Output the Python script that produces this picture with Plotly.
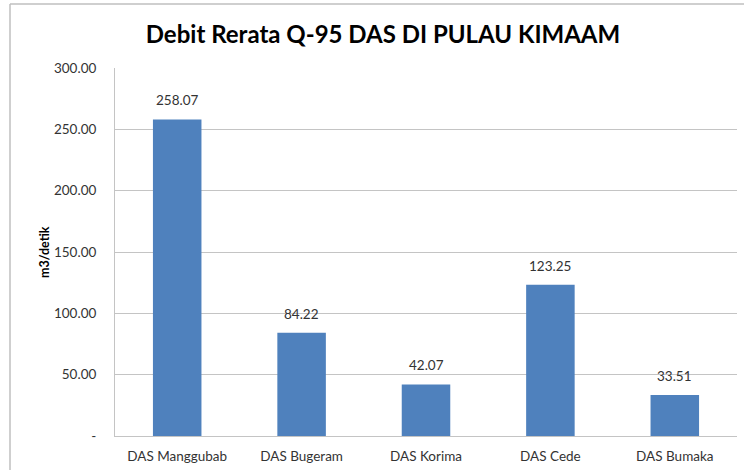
import plotly.graph_objects as go

categories = ["DAS Manggubab", "DAS Bugeram", "DAS Korima", "DAS Cede", "DAS Bumaka"]
values = [258.07, 84.22, 42.07, 123.25, 33.51]
tick_vals = [0, 50, 100, 150, 200, 250, 300]
tick_text = ["-", "50.00", "100.00", "150.00", "200.00", "250.00", "300.00"]
title_text = "Debit Rerata Q-95 DAS DI PULAU KIMAAM"
y_title = "m3/detik"

W, H = 744, 470
L, R, T, B = 115, 7, 68, 34
pw, ph = W - L - R, H - T - B

FONT = "Lato"
TXT = "#333333"
GRID = "#C4C4C4"
FS = 13.5

fig = go.Figure()
fig.add_trace(go.Bar(x=categories, y=values, marker=dict(color="#4F81BD", line=dict(width=0)),
                     hoverinfo="x+y"))

for c, v in zip(categories, values):
    fig.add_annotation(x=c, y=v, text=f"{v:.2f}", showarrow=False, yanchor="bottom", yshift=9,
                       font=dict(family=FONT, size=FS, color=TXT))

fig.add_annotation(x=(44 - L) / pw, y=0.5, xref="paper", yref="paper", text=f"<b>{y_title}</b>",
                   xanchor="center", yanchor="middle",
                   textangle=-90, showarrow=False, font=dict(family=FONT, size=12.5, color="#000"))

# outer chart border (left and top visible)
fig.add_shape(type="line", xref="paper", yref="paper", x0=(10 - L) / pw, x1=(10 - L) / pw,
              y0=(T + ph - H) / ph, y1=1 + (T - 4) / ph, line=dict(color="#BFBFBF", width=1.5))
fig.add_shape(type="line", xref="paper", yref="paper", x0=(10 - L) / pw, x1=(W - L) / pw,
              y0=1 + (T - 4) / ph, y1=1 + (T - 4) / ph, line=dict(color="#BFBFBF", width=1.5))

fig.update_layout(
    width=W, height=H, margin=dict(l=L, r=R, t=T, b=B, autoexpand=False),
    paper_bgcolor="white", plot_bgcolor="white", bargap=0.61, showlegend=False,
    title=dict(text=f"<b>{title_text}</b>", x=383 / W, xanchor="center", y=1 - 35 / H, yanchor="middle",
               font=dict(family=FONT, size=24, color="#000")),
    font=dict(family=FONT, size=FS, color=TXT),
    xaxis=dict(range=[-0.5, 4.5], showline=True, linecolor=GRID, linewidth=1, ticks="outside",
               ticklen=8, tickcolor="rgba(0,0,0,0)", showgrid=False, automargin=False,
               tickfont=dict(family=FONT, size=FS, color=TXT), fixedrange=True),
    yaxis=dict(range=[0, 300], tickvals=tick_vals, ticktext=tick_text, showline=True, linecolor=GRID,
               linewidth=1, showgrid=True, gridcolor=GRID, gridwidth=1, zeroline=False,
               ticks="outside", ticklen=15, tickcolor="rgba(0,0,0,0)", automargin=False,
               tickfont=dict(family=FONT, size=FS, color=TXT), fixedrange=True),
)

post = (
    "var s=document.createElement('style');"
    "s.textContent='html,body{margin:0;padding:0;overflow:hidden;height:470px;}"
    "::-webkit-scrollbar{display:none;width:0;height:0;}';"
    "document.head.appendChild(s);"
)
fig.write_html("out.html", config={"displayModeBar": False}, post_script=post)
